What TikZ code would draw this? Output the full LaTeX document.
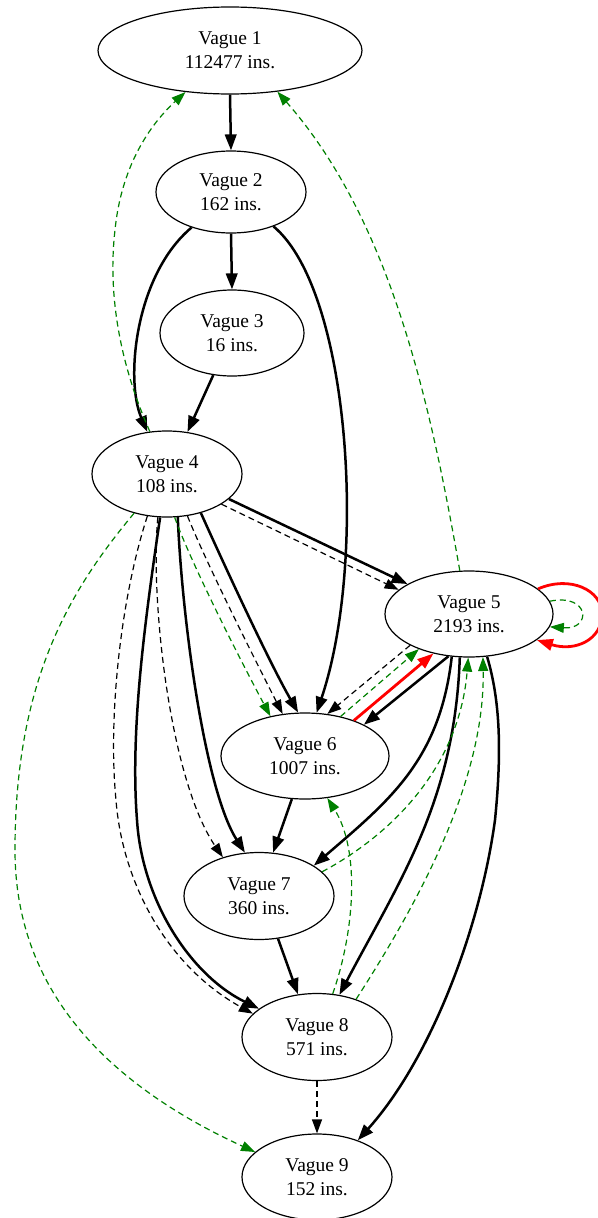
\documentclass[tikz,border=0pt]{standalone}
\usepackage{fontspec}
\setmainfont{Liberation Serif}
\usetikzlibrary{shapes.geometric,arrows.meta}
\definecolor{gvgreen}{RGB}{0,128,0}
\begin{document}
\begin{tikzpicture}[x=1pt,y=-1pt,
  vnode/.style={ellipse, draw, line width=1.2pt, inner sep=0pt, align=center,
    font=\fontsize{19.5}{24}\selectfont},
  boldE/.style={-{Triangle[length=16pt,width=11.5pt]}, line width=2.5pt},
  dashE/.style={-{Triangle[length=14pt,width=10pt]}, line width=1.2pt, dash pattern=on 6pt off 4pt},
  greenE/.style={dashE, gvgreen},
  redE/.style={-{Triangle[length=16pt,width=11.5pt]}, line width=2.8pt, red}]
\useasboundingbox (0,0) rectangle (597,1218);

\node[vnode, minimum width=264pt, minimum height=87pt] (v1) at (230,50.5) {Vague 1\\112477 ins.};
\node[vnode, minimum width=150pt, minimum height=82pt] (v2) at (231,192) {Vague 2\\162 ins.};
\node[vnode, minimum width=144pt, minimum height=86pt] (v3) at (232,333) {Vague 3\\16 ins.};
\node[vnode, minimum width=150pt, minimum height=86pt] (v4) at (167,474) {Vague 4\\108 ins.};
\node[vnode, minimum width=168pt, minimum height=86pt] (v5) at (469,614) {Vague 5\\2193 ins.};
\node[vnode, minimum width=168pt, minimum height=86pt] (v6) at (305,756) {Vague 6\\1007 ins.};
\node[vnode, minimum width=150pt, minimum height=87pt] (v7) at (259,896) {Vague 7\\360 ins.};
\node[vnode, minimum width=150pt, minimum height=87pt] (v8) at (317,1037) {Vague 8\\571 ins.};
\node[vnode, minimum width=150pt, minimum height=86pt] (v9) at (317,1177) {Vague 9\\152 ins.};

% solid black
\draw[boldE] (v1.-90) -- (v2.90);
\draw[boldE] (v2.-90) -- (v3.90);
\draw[boldE] (v2.-138) .. controls (135,275) and (125,380) .. (v4.115);
\draw[boldE] (v3.-114) -- (v4.64);
\draw[boldE] (v2.-39) .. controls (350,290) and (368,560) .. (v6.75);
\draw[boldE] (v4.-22) -- (v5.154);
\draw[boldE] (v4.-49) .. controls (222,560) and (268,660) .. (v6.99);
\draw[boldE] (v4.-76) .. controls (182,620) and (205,790) .. (v7.108);
\draw[boldE] (v4.-99) .. controls (145,620) and (130,730) .. (137,820)
  .. controls (142,900) and (190,975) .. (v8.154);
\draw[boldE] (v5.-116) -- (v6.28);
\draw[boldE] (v5.-112) .. controls (440,760) and (390,800) .. (v7.29);
\draw[boldE] (v5.-102) .. controls (455,800) and (400,880) .. (v8.62);
\draw[boldE] (v5.-67) .. controls (500,700) and (502,750) .. (495,820)
  .. controls (480,930) and (430,1060) .. (v9.42);
\draw[boldE] (v6.-107) -- (v7.72);
\draw[boldE] (v7.-66) -- (v8.114);

% red
\draw[redE] (v6.36) -- (v5.-132);
\draw[redE] (v5.20) .. controls (570,575) and (602,590) .. (602,614)
  .. controls (602,640) and (575,652) .. (v5.-21);

% dashed black
\draw[dashE] (v4.-29) -- (v5.161);
\draw[dashE] (v4.-64) .. controls (205,560) and (250,650) .. (v6.118);
\draw[dashE] (v4.-102) .. controls (150,600) and (170,780) .. (v7.133);
\draw[dashE] (v4.-115) .. controls (120,600) and (108,720) .. (116,800)
  .. controls (122,880) and (165,965) .. (v8.160);
\draw[dashE] (v5.-152) -- (v6.62);
\draw[dashE] (v8.-90) -- (v9.90);

% green dashed
\draw[greenE] (v4.112) .. controls (118,360) and (108,290) .. (115,230)
  .. controls (122,160) and (155,120) .. (v1.-137);
\draw[greenE] (v5.102) .. controls (430,400) and (390,220) .. (v1.-41);
\draw[greenE] (v4.-80) .. controls (190,560) and (235,650) .. (v6.131);
\draw[greenE] (v4.-130) .. controls (70,590) and (15,680) .. (15,850)
  .. controls (15,1000) and (120,1090) .. (v9.158);
\draw[greenE] (v6.48) -- (v5.-145);
\draw[greenE] (v7.21) .. controls (400,830) and (460,760) .. (v5.-91);
\draw[greenE] (v8.44) .. controls (420,900) and (485,780) .. (v5.-72);
\draw[greenE] (v8.70) .. controls (355,930) and (360,850) .. (v6.-62);
\draw[greenE] (v5.9) .. controls (590,593) and (592,630) .. (v5.-9);
\end{tikzpicture}
\end{document}
